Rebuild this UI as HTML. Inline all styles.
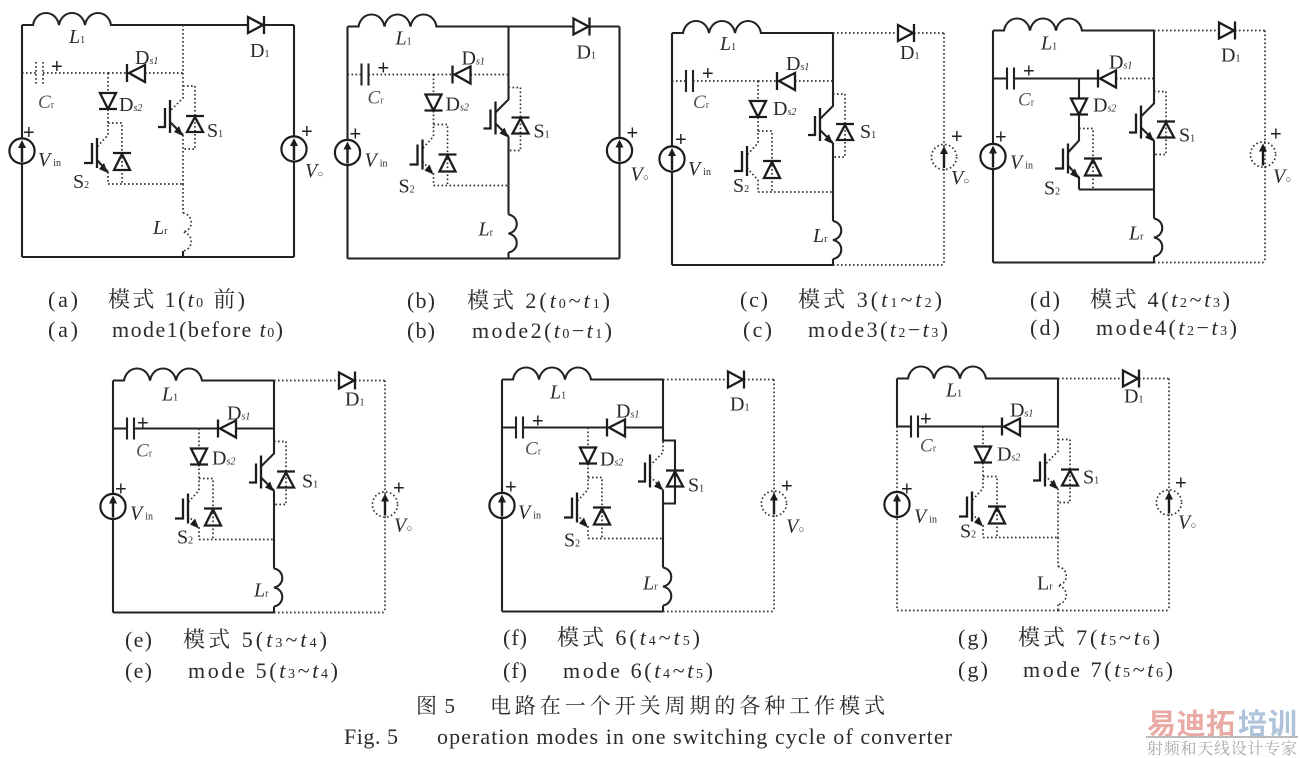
<!DOCTYPE html>
<html lang="zh"><head><meta charset="utf-8"><title>Fig. 5</title>
<style>
html,body{margin:0;padding:0;background:#fff}
svg{display:block;filter:blur(.35px)}
.s{stroke:#222;stroke-width:2.1;fill:none}
.t{stroke:#222;stroke-width:1.5;fill:none}
.d{stroke:#333;stroke-width:1.7;stroke-dasharray:1.6 2.4;fill:none}
.i{stroke:#1c1c1c;stroke-width:2.3;fill:none}
.k{fill:#1c1c1c;stroke:none}
text{font-family:"Liberation Serif","Noto Serif CJK SC",serif;fill:#2a2a2a}
.l{font-size:20px}
.g{font-size:19px;fill:#555}
.p{font-size:20px;font-family:"Liberation Sans",sans-serif;fill:#222}
.b{font-size:10px}
.c{font-size:22px}
.u{font-size:14px}
</style></head><body>
<svg width="1300" height="758" viewBox="0 0 1300 758" xmlns="http://www.w3.org/2000/svg">
<defs>
<path id="A" d="M0 0V232"/><path id="A1" d="M0 0V48"/><path id="A2" d="M0 48V232"/>
<path id="B" d="M0 0H11C14-16 34-16 37 0C40-16 60-16 63 0C66-16 86-16 89 0H161"/>
<path id="C" d="M161 0H226M242 0H272"/>
<path id="D" d="M272 0V232"/>
<path id="E" d="M0 232H161"/><path id="F" d="M161 232H272"/>
<path id="G" d="M0 48H14M21 48H86"/><path id="H" d="M86 48H105"/><path id="I" d="M123 48H161"/>
<path id="J" d="M161 0V48"/><path id="K" d="M161 48V73L148 86"/><path id="K1" d="M161 48V62"/><path id="K2" d="M161 62V73L148 86"/>
<path id="Lm" d="M148 97L161 110"/>
<path id="M" d="M161 110V159"/><path id="N" d="M161 159V188"/>
<path id="O" d="M161 188C172 190 172 205 161 207C172 209 172 224 161 226"/>
<path id="P" d="M161 226V232"/>
<path id="Q" d="M86 48V68M86 84V110L75 122"/>
<path id="R" d="M75 135L86 147V159"/>
<path id="R2" d="M86 147V159"/>
<path id="T" d="M86 159H161"/>
<path id="U" d="M161 61H173V124H161"/>
<path id="V" d="M86 98H100V159"/>
<g id="fix">
  <path class="i" d="M226-8L241 0L226 8ZM242-9V9"/>
  <path class="i" d="M123 40L107 48L123 57ZM105 39V57"/>
  <path class="i" d="M78 68H94L86 84ZM77 84H95"/>
  <path class="i" d="M173 92L181 107H165ZM164 91H182"/>
  <path class="i" d="M100 129L108 145H92ZM91 128H109"/>
  <path class="i" d="M148 75V108M143 83V102H136"/>
  <path class="i" d="M75 113V143M70 118V138H62"/>
  <polygon class="k" points="161,111 152,107 157,101"/>
  <circle cx="0" cy="126" r="12.6" fill="#fff" stroke="#1c1c1c" stroke-width="2.2"/>
  <path class="k" d="M0 115L4 123H1.2V137H-1.2V123H-4Z"/>
</g>
<path id="cap" d="M14 37V59M21 37V59"/>
<polygon id="a2" class="k" points="86,148 77,144 82,138"/>
<path id="voA" class="k" d="M272 113L276 121H273.2V135H270.8V121H268Z"/>
</defs>
<rect width="1300" height="758" fill="#fff"/>

<!-- a -->
<g transform="translate(22,25)">
<g class="s"><use href="#A"/><use href="#B"/><use href="#C"/><use href="#D"/><use href="#E"/><use href="#F"/><use href="#P"/><use href="#Lm"/></g>
<g class="d"><use href="#G"/><use href="#H"/><use href="#I"/><use href="#J"/><use href="#K"/><use href="#M"/><use href="#N"/><use href="#O"/><use href="#Q"/><use href="#R2"/><use href="#T"/><use href="#U"/><use href="#V"/><use href="#cap"/></g>
<use href="#fix"/><use href="#a2"/><path class="s" d="M75 135L86 147"/>
<circle cx="272" cy="124" r="12.6" fill="#fff" stroke="#1c1c1c" stroke-width="2.2"/><use href="#voA"/>
<text class="l" x="47" y="18"><tspan font-style="italic">L</tspan><tspan class="b">1</tspan></text>
<text class="l" x="228" y="32">D<tspan class="b">1</tspan></text>
<text class="l" x="113" y="39">D<tspan class="b" font-style="italic">s1</tspan></text>
<text class="l" x="97" y="86">D<tspan class="b" font-style="italic">s2</tspan></text>
<text class="g" x="16" y="83"><tspan font-style="italic">C</tspan><tspan class="b">r</tspan></text>
<text class="p" x="29" y="48">+</text>
<text class="l" x="185" y="112">S<tspan class="b">1</tspan></text>
<text class="l" x="51" y="163">S<tspan class="b">2</tspan></text>
<text class="l" x="16" y="141"><tspan font-style="italic">V</tspan><tspan class="b" dx="3">in</tspan></text>
<text class="l" x="131" y="209"><tspan font-style="italic">L</tspan><tspan class="b">r</tspan></text>
<text class="l" x="283" y="152"><tspan font-style="italic">V</tspan><tspan class="b">○</tspan></text>
<text class="p" x="1" y="114">+</text><text class="p" x="279" y="113">+</text>
</g>

<!-- b -->
<g transform="translate(347.5,26.5)">
<g class="s"><use href="#A"/><use href="#B"/><use href="#C"/><use href="#D"/><use href="#E"/><use href="#F"/><use href="#J"/><use href="#K"/><use href="#Lm"/><use href="#M"/><use href="#N"/><use href="#O"/><use href="#P"/><use href="#cap"/></g>
<g class="d"><use href="#G"/><use href="#H"/><use href="#I"/><use href="#Q"/><use href="#R"/><use href="#T"/><use href="#U"/><use href="#V"/></g>
<use href="#fix"/><use href="#a2"/>
<circle cx="272" cy="124" r="12.6" fill="#fff" stroke="#1c1c1c" stroke-width="2.2"/><use href="#voA"/>
<text class="l" x="48" y="18"><tspan font-style="italic">L</tspan><tspan class="b">1</tspan></text>
<text class="l" x="229" y="32">D<tspan class="b">1</tspan></text>
<text class="l" x="114" y="38">D<tspan class="b" font-style="italic">s1</tspan></text>
<text class="l" x="98" y="84">D<tspan class="b" font-style="italic">s2</tspan></text>
<text class="g" x="20" y="77"><tspan font-style="italic">C</tspan><tspan class="b">r</tspan></text>
<text class="p" x="30" y="48">+</text>
<text class="l" x="186" y="111">S<tspan class="b">1</tspan></text>
<text class="l" x="51" y="166">S<tspan class="b">2</tspan></text>
<text class="l" x="17" y="140"><tspan font-style="italic">V</tspan><tspan class="b" dx="3">in</tspan></text>
<text class="l" x="131" y="209"><tspan font-style="italic">L</tspan><tspan class="b">r</tspan></text>
<text class="l" x="283" y="154"><tspan font-style="italic">V</tspan><tspan class="b">○</tspan></text>
<text class="p" x="2" y="114">+</text><text class="p" x="279" y="113">+</text>
</g>

<!-- c -->
<g transform="translate(672,33)">
<g class="s"><use href="#A"/><use href="#B"/><use href="#E"/><use href="#J"/><use href="#K"/><use href="#Lm"/><use href="#M"/><use href="#N"/><use href="#O"/><use href="#P"/><use href="#cap"/></g>
<g class="d"><use href="#C"/><use href="#D"/><use href="#F"/><use href="#G"/><use href="#H"/><use href="#I"/><use href="#Q"/><use href="#R"/><use href="#T"/><use href="#U"/><use href="#V"/></g>
<use href="#fix"/>
<circle class="d" cx="272" cy="124" r="12.6" fill="#fff"/><use href="#voA"/>
<text class="l" x="48" y="17"><tspan font-style="italic">L</tspan><tspan class="b">1</tspan></text>
<text class="l" x="228" y="26">D<tspan class="b">1</tspan></text>
<text class="l" x="114" y="37">D<tspan class="b" font-style="italic">s1</tspan></text>
<text class="l" x="101" y="82">D<tspan class="b" font-style="italic">s2</tspan></text>
<text class="g" x="21" y="75"><tspan font-style="italic">C</tspan><tspan class="b">r</tspan></text>
<text class="p" x="30" y="47">+</text>
<text class="l" x="188" y="105">S<tspan class="b">1</tspan></text>
<text class="l" x="61" y="159">S<tspan class="b">2</tspan></text>
<text class="l" x="16" y="142"><tspan font-style="italic">V</tspan><tspan class="b" dx="3">in</tspan></text>
<text class="l" x="141" y="209"><tspan font-style="italic">L</tspan><tspan class="b">r</tspan></text>
<text class="l" x="279" y="151"><tspan font-style="italic">V</tspan><tspan class="b">○</tspan></text>
<text class="p" x="3" y="113">+</text><text class="p" x="279" y="110">+</text>
</g>

<!-- d -->
<g transform="translate(993,30.5)">
<g class="s"><use href="#A"/><use href="#B"/><use href="#E"/><use href="#J"/><use href="#K"/><use href="#Lm"/><use href="#M"/><use href="#N"/><use href="#O"/><use href="#P"/><use href="#cap"/><use href="#G"/><use href="#H"/><use href="#Q"/><use href="#R"/><use href="#T"/></g>
<g class="d"><use href="#C"/><use href="#D"/><use href="#F"/><use href="#I"/><use href="#U"/><use href="#V"/></g>
<use href="#fix"/><use href="#a2"/>
<circle class="d" cx="270" cy="124" r="12.6" fill="#fff"/><use href="#voA" x="-2"/>
<text class="l" x="48" y="19"><tspan font-style="italic">L</tspan><tspan class="b">1</tspan></text>
<text class="l" x="228" y="31">D<tspan class="b">1</tspan></text>
<text class="l" x="116" y="38">D<tspan class="b" font-style="italic">s1</tspan></text>
<text class="l" x="100" y="81">D<tspan class="b" font-style="italic">s2</tspan></text>
<text class="g" x="25" y="75"><tspan font-style="italic">C</tspan><tspan class="b">r</tspan></text>
<text class="p" x="30" y="47">+</text>
<text class="l" x="186" y="111">S<tspan class="b">1</tspan></text>
<text class="l" x="51" y="164">S<tspan class="b">2</tspan></text>
<text class="l" x="17" y="138"><tspan font-style="italic">V</tspan><tspan class="b" dx="3">in</tspan></text>
<text class="l" x="136" y="209"><tspan font-style="italic">L</tspan><tspan class="b">r</tspan></text>
<text class="l" x="280" y="152"><tspan font-style="italic">V</tspan><tspan class="b">○</tspan></text>
<text class="p" x="2" y="113">+</text><text class="p" x="277" y="110">+</text>
</g>

<!-- e -->
<g transform="translate(113,380.5)">
<g class="s"><use href="#A"/><use href="#B"/><use href="#E"/><use href="#J"/><use href="#K"/><use href="#Lm"/><use href="#M"/><use href="#N"/><use href="#O"/><use href="#P"/><use href="#cap"/><use href="#G"/><use href="#H"/><use href="#I"/></g>
<g class="d"><use href="#C"/><use href="#D"/><use href="#F"/><use href="#Q"/><use href="#R"/><use href="#T"/><use href="#U"/><use href="#V"/></g>
<use href="#fix"/><use href="#a2"/>
<circle class="d" cx="272" cy="124" r="12.6" fill="#fff"/><use href="#voA"/>
<text class="l" x="49" y="20"><tspan font-style="italic">L</tspan><tspan class="b">1</tspan></text>
<text class="l" x="232" y="25">D<tspan class="b">1</tspan></text>
<text class="l" x="114" y="39">D<tspan class="b" font-style="italic">s1</tspan></text>
<text class="l" x="99" y="84">D<tspan class="b" font-style="italic">s2</tspan></text>
<text class="g" x="23" y="76"><tspan font-style="italic">C</tspan><tspan class="b">r</tspan></text>
<text class="p" x="24" y="49">+</text>
<text class="l" x="189" y="107">S<tspan class="b">1</tspan></text>
<text class="l" x="64" y="163">S<tspan class="b">2</tspan></text>
<text class="l" x="17" y="139"><tspan font-style="italic">V</tspan><tspan class="b" dx="3">in</tspan></text>
<text class="l" x="141" y="216"><tspan font-style="italic">L</tspan><tspan class="b">r</tspan></text>
<text class="l" x="281" y="151"><tspan font-style="italic">V</tspan><tspan class="b">○</tspan></text>
<text class="p" x="2" y="115">+</text><text class="p" x="280" y="114">+</text>
</g>

<!-- f -->
<g transform="translate(502,379.5)">
<g class="s"><use href="#A"/><use href="#B"/><use href="#E"/><use href="#J"/><use href="#K1"/><use href="#M"/><use href="#N"/><use href="#O"/><use href="#P"/><use href="#cap"/><use href="#G"/><use href="#H"/><use href="#I"/><use href="#U"/></g>
<g class="d"><use href="#C"/><use href="#D"/><use href="#F"/><use href="#K2"/><use href="#Lm"/><use href="#Q"/><use href="#R"/><use href="#T"/><use href="#V"/></g>
<use href="#fix"/><use href="#a2"/>
<circle class="d" cx="272" cy="124" r="12.6" fill="#fff"/><use href="#voA"/>
<text class="l" x="48" y="19"><tspan font-style="italic">L</tspan><tspan class="b">1</tspan></text>
<text class="l" x="228" y="31">D<tspan class="b">1</tspan></text>
<text class="l" x="114" y="38">D<tspan class="b" font-style="italic">s1</tspan></text>
<text class="l" x="98" y="86">D<tspan class="b" font-style="italic">s2</tspan></text>
<text class="g" x="23" y="75"><tspan font-style="italic">C</tspan><tspan class="b">r</tspan></text>
<text class="p" x="30" y="48">+</text>
<text class="l" x="186" y="112">S<tspan class="b">1</tspan></text>
<text class="l" x="62" y="167">S<tspan class="b">2</tspan></text>
<text class="l" x="16" y="139"><tspan font-style="italic">V</tspan><tspan class="b" dx="3">in</tspan></text>
<text class="l" x="141" y="210"><tspan font-style="italic">L</tspan><tspan class="b">r</tspan></text>
<text class="l" x="284" y="153"><tspan font-style="italic">V</tspan><tspan class="b">○</tspan></text>
<text class="p" x="3" y="114">+</text><text class="p" x="279" y="113">+</text>
</g>

<!-- g -->
<g transform="translate(897,378.5)">
<g class="s"><use href="#A1"/><use href="#B"/><use href="#J"/><use href="#cap"/><use href="#G"/><use href="#H"/><use href="#I"/></g>
<g class="d"><use href="#A2"/><use href="#C"/><use href="#D"/><use href="#E"/><use href="#F"/><use href="#K"/><use href="#Lm"/><use href="#M"/><use href="#N"/><use href="#O"/><use href="#P"/><use href="#Q"/><use href="#R"/><use href="#T"/><use href="#U"/><use href="#V"/></g>
<use href="#fix"/><use href="#a2"/>
<circle class="d" cx="272" cy="124" r="12.6" fill="#fff"/><use href="#voA"/>
<text class="l" x="49" y="18"><tspan font-style="italic">L</tspan><tspan class="b">1</tspan></text>
<text class="l" x="227" y="24">D<tspan class="b">1</tspan></text>
<text class="l" x="113" y="38">D<tspan class="b" font-style="italic">s1</tspan></text>
<text class="l" x="100" y="82">D<tspan class="b" font-style="italic">s2</tspan></text>
<text class="g" x="23" y="73"><tspan font-style="italic">C</tspan><tspan class="b">r</tspan></text>
<text class="p" x="23" y="47">+</text>
<text class="l" x="186" y="105">S<tspan class="b">1</tspan></text>
<text class="l" x="63" y="159">S<tspan class="b">2</tspan></text>
<text class="l" x="17" y="144"><tspan font-style="italic">V</tspan><tspan class="b" dx="3">in</tspan></text>
<text class="l" x="140" y="211">L<tspan class="b">r</tspan></text>
<text class="l" x="281" y="150"><tspan font-style="italic">V</tspan><tspan class="b">○</tspan></text>
<text class="p" x="4" y="117">+</text><text class="p" x="278" y="111">+</text>
</g>

<!-- captions -->
<g class="c">
<text x="48" y="307" textLength="30">(a)</text>
<text x="108" y="307" textLength="137">模式 1(<tspan font-style="italic">t</tspan><tspan class="u">0</tspan> 前)</text>
<text x="48" y="337" textLength="30">(a)</text>
<text x="112" y="337" textLength="171">mode1(before <tspan font-style="italic">t</tspan><tspan class="u">0</tspan>)</text>

<text x="407" y="308" textLength="28">(b)</text>
<text x="467" y="308" textLength="143">模式 2(<tspan font-style="italic">t</tspan><tspan class="u">0</tspan>~<tspan font-style="italic">t</tspan><tspan class="u">1</tspan>)</text>
<text x="407" y="338" textLength="28">(b)</text>
<text x="472" y="338" textLength="140">mode2(<tspan font-style="italic">t</tspan><tspan class="u">0</tspan>−<tspan font-style="italic">t</tspan><tspan class="u">1</tspan>)</text>

<text x="740" y="307" textLength="28">(c)</text>
<text x="798" y="307" textLength="144">模式 3(<tspan font-style="italic">t</tspan><tspan class="u">1</tspan>~<tspan font-style="italic">t</tspan><tspan class="u">2</tspan>)</text>
<text x="743" y="337" textLength="29">(c)</text>
<text x="808" y="337" textLength="140">mode3(<tspan font-style="italic">t</tspan><tspan class="u">2</tspan>−<tspan font-style="italic">t</tspan><tspan class="u">3</tspan>)</text>

<text x="1030" y="307" textLength="30">(d)</text>
<text x="1090" y="307" textLength="140">模式 4(<tspan font-style="italic">t</tspan><tspan class="u">2</tspan>~<tspan font-style="italic">t</tspan><tspan class="u">3</tspan>)</text>
<text x="1030" y="335" textLength="30">(d)</text>
<text x="1096" y="335" textLength="141">mode4(<tspan font-style="italic">t</tspan><tspan class="u">2</tspan>−<tspan font-style="italic">t</tspan><tspan class="u">3</tspan>)</text>

<text x="125" y="647" textLength="27">(e)</text>
<text x="183" y="647" textLength="144">模式 5(<tspan font-style="italic">t</tspan><tspan class="u">3</tspan>~<tspan font-style="italic">t</tspan><tspan class="u">4</tspan>)</text>
<text x="125" y="678" textLength="27">(e)</text>
<text x="188" y="678" textLength="150">mode 5(<tspan font-style="italic">t</tspan><tspan class="u">3</tspan>~<tspan font-style="italic">t</tspan><tspan class="u">4</tspan>)</text>

<text x="503" y="645" textLength="24">(f)</text>
<text x="557" y="645" textLength="143">模式 6(<tspan font-style="italic">t</tspan><tspan class="u">4</tspan>~<tspan font-style="italic">t</tspan><tspan class="u">5</tspan>)</text>
<text x="503" y="678" textLength="24">(f)</text>
<text x="563" y="678" textLength="150">mode 6(<tspan font-style="italic">t</tspan><tspan class="u">4</tspan>~<tspan font-style="italic">t</tspan><tspan class="u">5</tspan>)</text>

<text x="958" y="645" textLength="30">(g)</text>
<text x="1018" y="645" textLength="142">模式 7(<tspan font-style="italic">t</tspan><tspan class="u">5</tspan>~<tspan font-style="italic">t</tspan><tspan class="u">6</tspan>)</text>
<text x="958" y="677" textLength="30">(g)</text>
<text x="1023" y="677" textLength="150">mode 7(<tspan font-style="italic">t</tspan><tspan class="u">5</tspan>~<tspan font-style="italic">t</tspan><tspan class="u">6</tspan>)</text>
</g>

<text x="416" y="713" font-size="21" textLength="39">图 5</text>
<text x="490" y="713" font-size="21" textLength="395">电路在一个开关周期的各种工作模式</text>
<text x="344" y="744" font-size="22" textLength="54">Fig. 5</text>
<text x="437" y="744" font-size="22" textLength="515">operation modes in one switching cycle of converter</text>

<!-- watermark -->
<g font-weight="700">
<text x="1147" y="734" font-size="29" textLength="88" style="font-family:'Noto Sans CJK SC','WenQuanYi Zen Hei',sans-serif;fill:#e9aaa5">易迪拓</text>
<text x="1238" y="734" font-size="29" textLength="59" style="font-family:'Noto Sans CJK SC','WenQuanYi Zen Hei',sans-serif;fill:#aec3d9">培训</text>
</g>
<rect x="1146" y="736" width="152" height="2" fill="#bbb"/>
<text x="1147" y="754" font-size="16" textLength="150" style="font-family:'Noto Serif CJK SC',serif;fill:#a8a8a8">射频和天线设计专家</text>
</svg>
</body></html>
